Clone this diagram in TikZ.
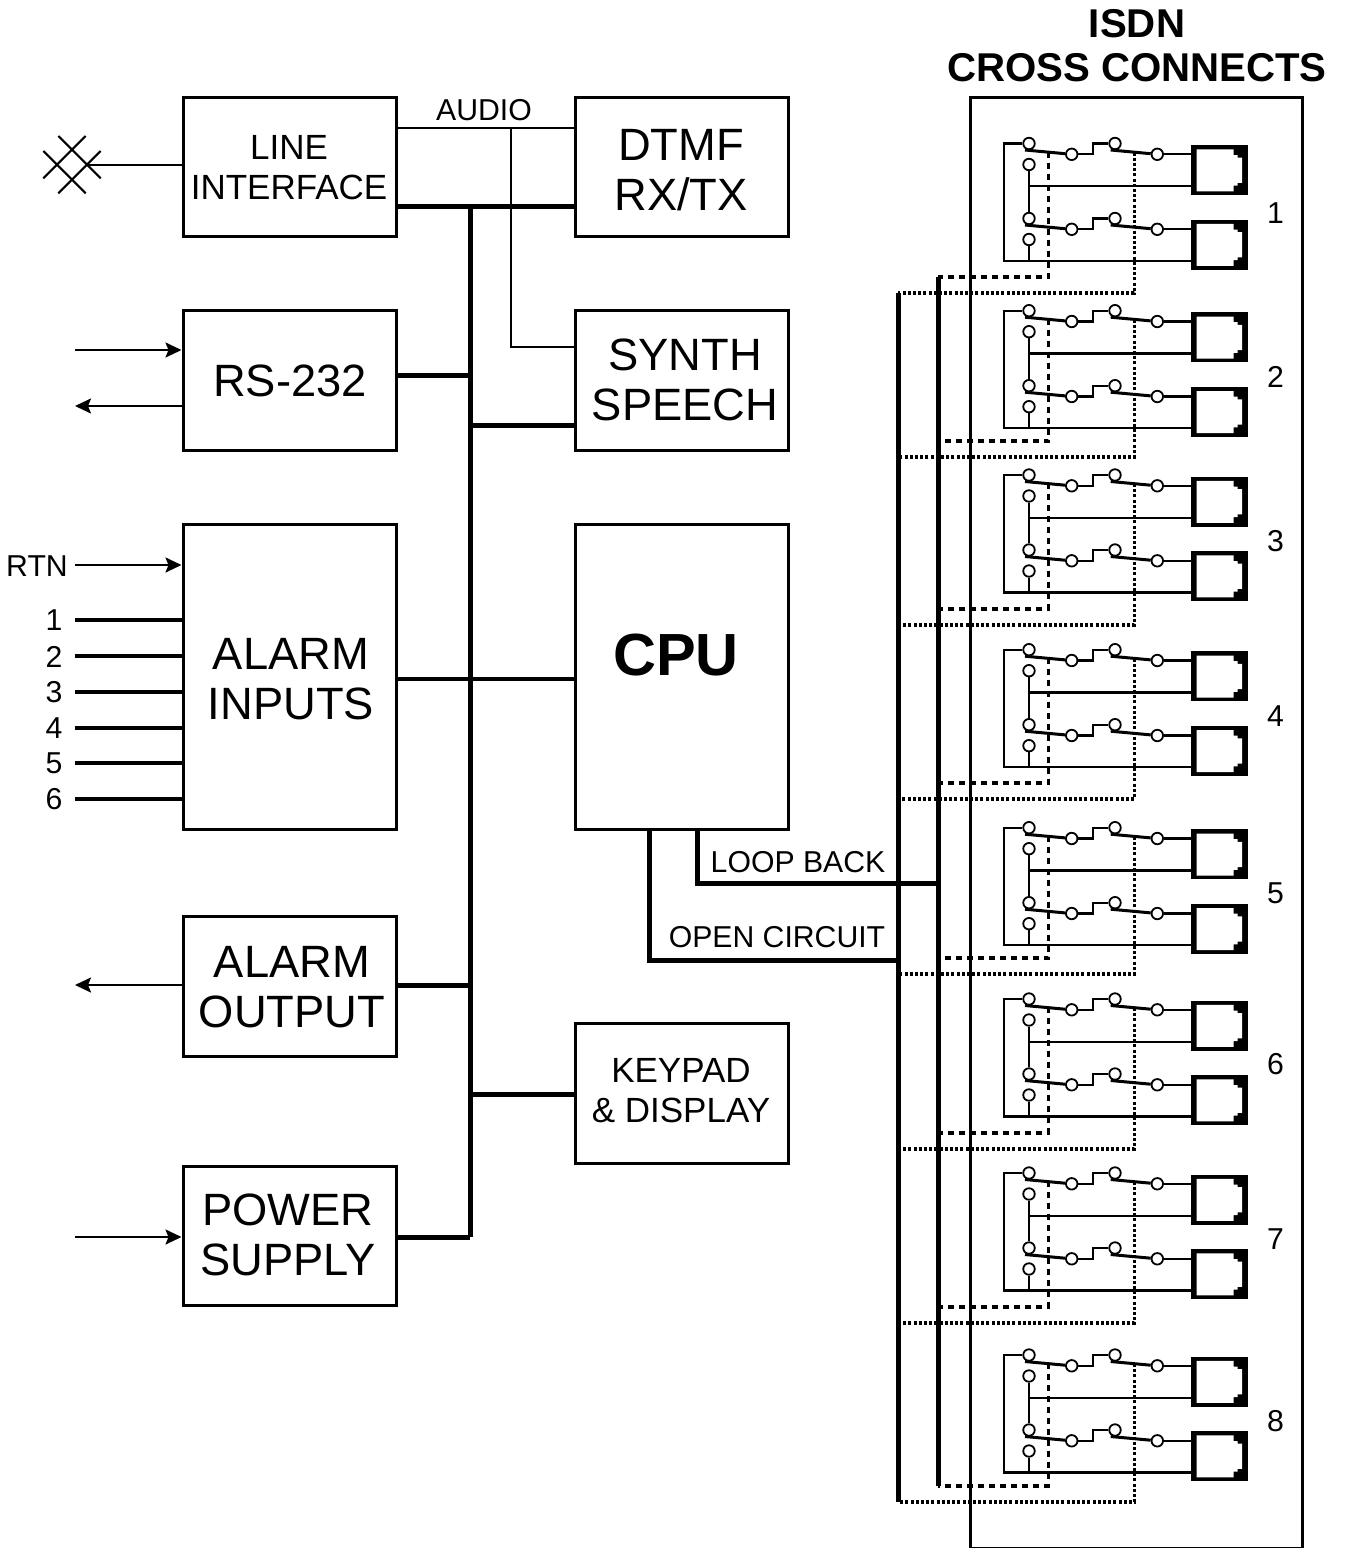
\documentclass[tikz,border=0pt]{standalone}
\usepackage{fontspec}
\setmainfont{Liberation Sans}
\usetikzlibrary{arrows.meta}

\tikzset{
  blockbox/.style={draw, line width=3pt, minimum width=213pt, inner sep=0pt},
  wire/.style={line width=2.1pt},
  bus/.style={line width=5pt},
  alarmline/.style={line width=3.4pt},
  swarm/.style={line width=3pt},
  gangdash/.style={line width=3.2pt, dash pattern=on 6pt off 5pt},
  gangdot/.style={line width=3.2pt, dash pattern=on 3pt off 2.2pt},
  contact/.style={draw, circle, fill=white, line width=1.8pt, minimum size=11.5pt, inner sep=0pt},
  jack/.style={fill=black, minimum width=57pt, minimum height=50pt, inner sep=0pt},
  bigtxt/.style={align=center, font=\fontsize{45.3}{50}\selectfont},
  midtxt/.style={align=center, font=\fontsize{35}{40}\selectfont},
  smalltxt/.style={font=\fontsize{30.2}{34}\selectfont},
}
\newcommand{\jackslot}[1]{\fill[white] ([shift={(-22.8,-20.7)}]#1.center) -- ++(37,0) -- ++(0,5.7) -- ++(4,0) -- ++(0,2.7) -- ++(4.3,0)
  -- ++(0,25.2) -- ++(-4.3,0) -- ++(0,2.7) -- ++(-4,0) -- ++(0,5.7) -- ++(-37,0) -- cycle;}

\begin{document}
\begin{tikzpicture}[x=1pt, y=-1pt, >={Stealth[length=16pt,width=15pt,inset=3pt]}]
\useasboundingbox (0,0) rectangle (1347,1548);

% left column
\node[blockbox, minimum height=139pt] (lineif) at (289.5,166.5) {};
\node[blockbox, minimum height=140pt] (rsport) at (289.5,380) {};
\node[blockbox, minimum height=305pt] (alarmin) at (289.5,676.5) {};
\node[blockbox, minimum height=140pt] (alarmout) at (289.5,986) {};
\node[blockbox, minimum height=139pt] (power) at (289.5,1235.5) {};
% middle column
\node[blockbox, minimum height=139pt] (dtmf) at (681.5,166.5) {};
\node[blockbox, minimum height=140pt] (synth) at (681.5,380) {};
\node[blockbox, minimum height=305pt] (cpu) at (681.5,676.5) {};
\node[blockbox, minimum height=140pt] (keypad) at (681.5,1093) {};
% cross connect panel
\node[blockbox, minimum width=332pt, minimum height=1451pt] (panel) at (1136,822.5) {};

\node[midtxt] (lineiftxt) at (289,168) {LINE\\INTERFACE};
\node[bigtxt] (rsporttxt) at (290,381) {RS-232};
\node[bigtxt] (alarmintxt) at (291,679) {ALARM\\INPUTS};
\node[bigtxt] (alarmouttxt) at (292,987) {ALARM\\OUTPUT};
\node[bigtxt] (powertxt) at (288,1235) {POWER\\SUPPLY};
\node[bigtxt] (dtmftxt) at (681,170) {DTMF\\RX/TX};
\node[bigtxt] (synthtxt) at (685,380) {SYNTH\\SPEECH};
\node[font=\fontsize{59.5}{60}\bfseries\selectfont] (cputxt) at (676,655) {CPU};
\node[midtxt] (keypadtxt) at (681,1091) {KEYPAD\\\& DISPLAY};
\node[align=center, font=\fontsize{40.2}{44}\bfseries\selectfont] (paneltxt) at (1137,46) {ISDN\\CROSS CONNECTS};
\node[smalltxt] (audiotxt) at (484,110) {AUDIO};
\node[smalltxt] (looptxt) at (798,862) {LOOP BACK};
\node[smalltxt] (opentxt) at (777,937) {OPEN CIRCUIT};
\node[smalltxt] (rtntxt) at (37,566) {RTN};

% line crossing symbol
\coordinate (linein) at (88,165);
\draw[wire] (58.3,136)--(100.7,178.3);
\draw[wire] (43.3,151)--(85.7,193.3);
\draw[wire] (85.7,136)--(43.3,178.3);
\draw[wire] (100.7,151)--(58.3,193.3);
\draw[wire] (linein) -- (lineif.west |- linein);

% outside connections
\coordinate (rstx) at (75,350);
\coordinate (rsrx) at (75,406);
\coordinate (rtn) at (75,565);
\coordinate (alarmtx) at (75,985);
\coordinate (powerin) at (75,1237);
\draw[wire,->] (rstx) -- (rsport.west |- rstx);
\draw[wire,->] (rsport.west |- rsrx) -- (rsrx);
\draw[wire,->] (rtn) -- (alarmin.west |- rtn);
\draw[wire,->] (alarmout.west |- alarmtx) -- (alarmtx);
\draw[wire,->] (powerin) -- (power.west |- powerin);
\foreach \n/\t in {1/620,2/656,3/692,4/728,5/763,6/799}{
  \coordinate (alarm\n) at (75,\t);
  \node[smalltxt] (alarmtxt\n) at (54,\t+0.5) {\n};
  \draw[alarmline] (alarm\n) -- (alarmin.west |- alarm\n);
}

% main bus
\coordinate (bustop) at (470,206);
\coordinate (busbot) at (470,1237);
\draw[bus] (bustop) -- (busbot);
\draw[bus] (lineif.east |- bustop) -- (dtmf.west |- bustop);
\draw[bus] (rsport.east |- 0,375) -- (bustop |- 0,375);
\draw[bus] (bustop |- 0,425) -- (synth.west |- 0,425);
\draw[alarmline] (alarmin.east |- 0,679) -- (cpu.west |- 0,679);
\draw[bus] (alarmout.east |- 0,985) -- (bustop |- 0,985);
\draw[bus] (bustop |- 0,1094) -- (keypad.west |- 0,1094);
\draw[bus] (power.east |- busbot) -- (busbot);

% audio
\draw[wire] (lineif.east |- 0,128) -- (dtmf.west |- 0,128);
\draw[wire] (511,128) |- (synth.west |- 0,347);

% relay drive lines
\coordinate (openbus) at (898,960);
\coordinate (loopbus) at (938,883);
\draw[bus] (649.5,829) |- (openbus);
\draw[bus] (697,829) |- (loopbus);
\draw[bus] (openbus |- 0,293) -- (openbus |- 0,1502);
\draw[bus] (loopbus |- 0,277) -- (loopbus |- 0,1486);

% cross connect units
\foreach \n/\t/\d/\l in {1/143.5/277/213.5,2/310.7/441/376.5,3/475/609/541.5,4/649.7/783/716.5,5/827.7/958/893.5,6/999/1133/1064.5,7/1173/1307/1239.5,8/1355/1486/1421.5}{
  \begin{scope}[shift={(0,\t)}]
    \node[contact] (a\n) at (1029,0) {};
    \node[contact] (b\n) at (1029,21) {};
    \node[contact] (c\n) at (1029,75) {};
    \node[contact] (d\n) at (1029,96) {};
    \node[contact] (e\n) at (1071.7,10.8) {};
    \node[contact] (f\n) at (1115,0) {};
    \node[contact] (g\n) at (1157.3,10.8) {};
    \node[contact] (h\n) at (1071.7,85.8) {};
    \node[contact] (i\n) at (1115,75) {};
    \node[contact] (j\n) at (1157.3,85.8) {};
    \node[jack] (upper\n) at (1219.5,26.5) {};
    \node[jack] (lower\n) at (1219.5,101) {};
    \jackslot{upper\n}
    \jackslot{lower\n}
    \coordinate (rail\n) at (1004,117.5);
    \coordinate (mid\n) at (1029,42.8);
    \coordinate (bend\n) at (1093.3,10.8);
    \coordinate (lbend\n) at (1093.3,85.8);
    \coordinate (pivotp\n) at (1025,6.5);
    \coordinate (pivotq\n) at (1110.7,6.5);
    \coordinate (pivotr\n) at (1025,81.5);
    \coordinate (pivots\n) at (1110.7,81.5);
    \coordinate (ganga\n) at (1048.3,8);
    \coordinate (gangb\n) at (1134.3,9);
    \node[smalltxt] (unit\n) at (1275.5,\l-\t) {\n};
  \end{scope}
  \draw[wire] (a\n) -| (rail\n) -- (lower\n.west |- rail\n);
  \draw[wire] (b\n) -- (c\n);
  \draw[wire] (d\n) -- (d\n |- rail\n);
  \draw[wire] (mid\n) -- (upper\n.west |- mid\n);
  \draw[wire] (e\n) -- (bend\n) |- (f\n);
  \draw[wire] (h\n) -- (lbend\n) |- (i\n);
  \draw[wire] (g\n) -- (upper\n.west |- g\n);
  \draw[wire] (j\n) -- (lower\n.west |- j\n);
  \draw[swarm] (pivotp\n) -- (e\n);
  \draw[swarm] (pivotq\n) -- (g\n);
  \draw[swarm] (pivotr\n) -- (h\n);
  \draw[swarm] (pivots\n) -- (j\n);
  \draw[gangdash] (ganga\n) |- (loopbus |- 0,\d);
  \draw[gangdot] (gangb\n) |- (openbus |- 0,\d+16);
}
\end{tikzpicture}
\end{document}
